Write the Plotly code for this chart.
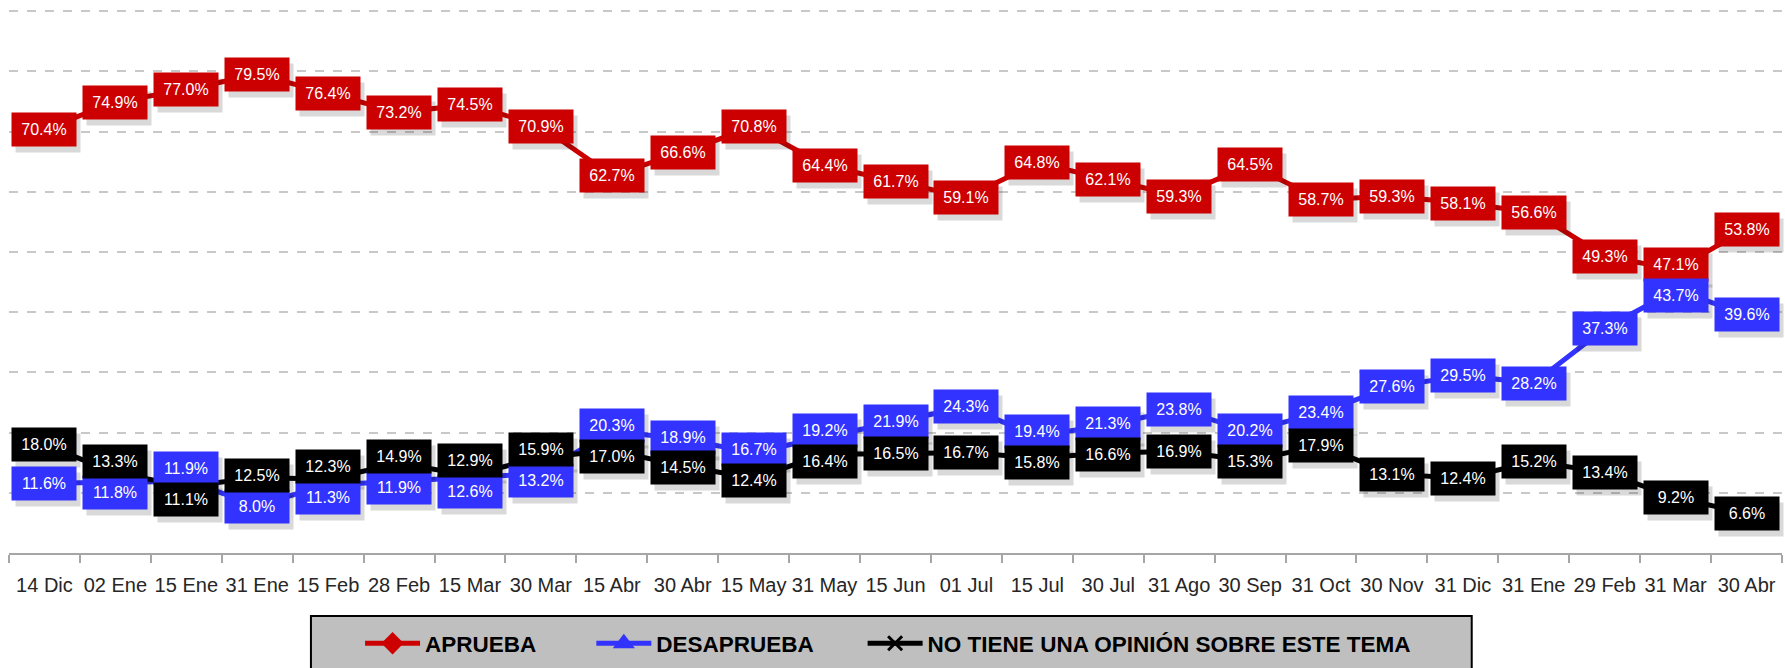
import plotly.graph_objects as go

dates = ["14 Dic", "02 Ene", "15 Ene", "31 Ene", "15 Feb", "28 Feb", "15 Mar", "30 Mar",
         "15 Abr", "30 Abr", "15 May", "31 May", "15 Jun", "01 Jul", "15 Jul", "30 Jul",
         "31 Ago", "30 Sep", "31 Oct", "30 Nov", "31 Dic", "31 Ene", "29 Feb", "31 Mar", "30 Abr"]

aprueba = [70.4, 74.9, 77.0, 79.5, 76.4, 73.2, 74.5, 70.9, 62.7, 66.6, 70.8, 64.4, 61.7,
           59.1, 64.8, 62.1, 59.3, 64.5, 58.7, 59.3, 58.1, 56.6, 49.3, 47.1, 53.8]
desaprueba = [11.6, 11.8, 11.9, 8.0, 11.3, 11.9, 12.6, 13.2, 20.3, 18.9, 16.7, 19.2, 21.9,
              24.3, 19.4, 21.3, 23.8, 20.2, 23.4, 27.6, 29.5, 28.2, 37.3, 43.7, 39.6]
no_opinion = [18.0, 13.3, 11.1, 12.5, 12.3, 14.9, 12.9, 15.9, 17.0, 14.5, 12.4, 16.4, 16.5,
              16.7, 15.8, 16.6, 16.9, 15.3, 17.9, 13.1, 12.4, 15.2, 13.4, 9.2, 6.6]

series_names = ["APRUEBA", "DESAPRUEBA", "NO TIENE UNA OPINIÓN SOBRE ESTE TEMA"]
series_values = [aprueba, desaprueba, no_opinion]
colors = ["#cc0000", "#3333ff", "#000000"]
symbols = ["diamond", "triangle-up", "x-thin-open"]
legend_pad = [8, 7, 0]

FONT = "Liberation Sans, Arial, sans-serif"
xs = list(range(len(dates)))

Y_MAX = 90.2
PLOT_H = 668 - 10 - 113
PX_PER_UNIT = PLOT_H / Y_MAX
MIN_SEP = 31  # px between label centres at the same date

# vertical pixel shifts so that labels at the same date do not cover each other
shifts = [[0.0] * len(xs) for _ in series_values]
for i in xs:
    order = sorted(range(len(series_values)), key=lambda s: series_values[s][i])
    for a, b in zip(order[:-1], order[1:]):
        gap = (series_values[b][i] - series_values[a][i]) * PX_PER_UNIT
        if gap < MIN_SEP:
            push = (MIN_SEP - gap) / 2
            shifts[a][i] -= push
            shifts[b][i] += push

fig = go.Figure()
for name, vals, col, sym, pad in zip(series_names, series_values, colors, symbols, legend_pad):
    fig.add_trace(go.Scatter(
        x=xs, y=vals, name=name + "\u00a0" * pad, mode="lines+markers",
        line=dict(color=col, width=5),
        marker=dict(symbol=sym, size=14, color=col, line=dict(color=col, width=3)),
    ))

# label shadows (empty boxes) first, then label boxes
for s, vals in enumerate(series_values):
    for x, v in zip(xs, vals):
        fig.add_annotation(x=x, y=v, xref="x", yref="y", text="\u00a0",
                           showarrow=False, xshift=4, yshift=shifts[s][x] - 6,
                           width=56, height=25,
                           font=dict(family=FONT, size=16, color="rgba(0,0,0,0)"),
                           bgcolor="rgba(0,0,0,0.15)", borderpad=4)
for s, (vals, col) in enumerate(zip(series_values, colors)):
    for x, v in zip(xs, vals):
        fig.add_annotation(x=x, y=v, xref="x", yref="y", text=f"{v:.1f}%",
                           showarrow=False, yshift=shifts[s][x], width=56, height=25,
                           font=dict(family=FONT, size=16, color="white"),
                           bgcolor=col, borderpad=4)

# legend frame
fig.add_shape(type="rect", xref="paper", yref="paper",
              x0=0.1703, x1=0.825, y0=-0.1161, y1=-0.229,
              fillcolor="#bfbfbf", line=dict(color="#000000", width=2), layer="below")

fig.update_layout(
    width=1785, height=668,
    margin=dict(l=9, r=3, t=10, b=113),
    paper_bgcolor="white", plot_bgcolor="white",
    showlegend=True,
    legend=dict(orientation="h", x=0.198, xanchor="left", y=-0.167, yanchor="middle",
                bgcolor="rgba(0,0,0,0)", borderwidth=0, itemwidth=55,
                font=dict(family=FONT, size=22.5, color="black", weight="bold")),
    xaxis=dict(range=[-0.5, len(dates) - 0.5], tickmode="array", tickvals=xs, ticktext=dates,
               ticks="", tickangle=0, ticklabelstandoff=13, automargin=False,
               showline=True, linecolor="#a6a6a6", linewidth=2, showgrid=False,
               zeroline=False, tickfont=dict(family=FONT, size=20, color="#262626"),
               minor=dict(tick0=-0.5, dtick=1, ticks="outside", ticklen=8,
                          tickcolor="#a6a6a6", tickwidth=2, showgrid=False)),
    yaxis=dict(range=[0, Y_MAX], tickmode="array", tickvals=[10, 20, 30, 40, 50, 60, 70, 80, 90],
               showticklabels=False, showgrid=True, automargin=False,
               gridcolor="#c8c8c8", griddash="dash", gridwidth=1.5, zeroline=False,
               showline=False, ticks=""),
)

fig.write_html("out.html", config={"displayModeBar": False},
               post_script="document.body.style.margin='0px';")
